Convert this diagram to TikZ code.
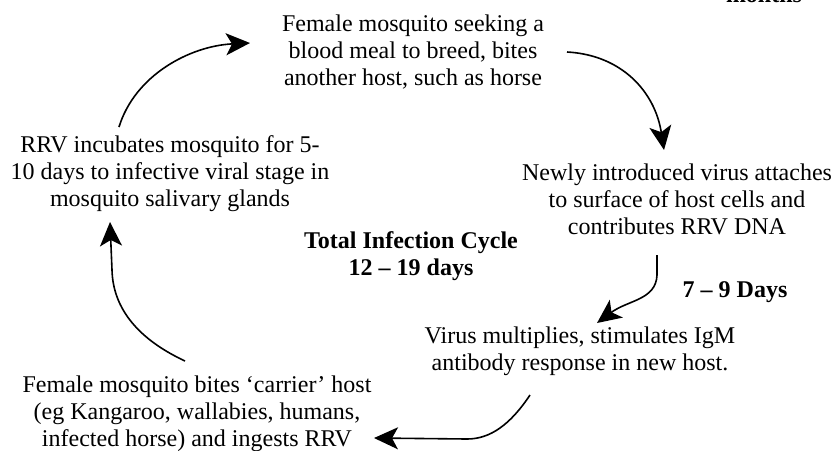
\documentclass[tikz,border=0pt]{standalone}
\usepackage{fontspec}
\setmainfont{Liberation Serif}
\usetikzlibrary{arrows.meta}
\begin{document}
\begin{tikzpicture}[x=0.5pt,y=-0.5pt,
  txt/.style={align=center,inner sep=0pt,font=\fontsize{12}{13.5}\selectfont},
  lbl/.style={align=center,inner sep=0pt,font=\fontsize{12}{13.5}\selectfont\bfseries},
  conn/.style={line width=0.8pt,-{Stealth[length=12pt,width=11pt,inset=3pt]}}]
\useasboundingbox (0,0) rectangle (833,450);
\node[txt] (top) at (413,52) {Female mosquito seeking a\\blood meal to breed, bites\\another host, such as horse};
\node[txt] (left) at (170,174) {RRV incubates mosquito for 5-\\10 days to infective viral stage in\\mosquito salivary glands};
\node[txt] (right) at (677,199) {Newly introduced virus attaches\\to surface of host cells and\\contributes RRV DNA};
\node[txt] (virus) at (580,351) {Virus multiplies, stimulates IgM\\antibody response in new host.};
\node[txt] (carrier) at (197,414) {Female mosquito bites `carrier' host\\(eg Kangaroo, wallabies, humans,\\infected horse) and ingests RRV};
\node[lbl] (total) at (411,256) {Total Infection Cycle\\12 -- 19 days};
\node[lbl] (days) at (735,292) {7 -- 9 Days};
\node[lbl,anchor=base] (months) at (764,2.5) {months};
% connector end points
\coordinate (a1s) at (119,127); \coordinate (a1e) at (250,43);
\coordinate (a2s) at (567,52);  \coordinate (a2e) at (664,150);
\coordinate (a3s) at (657,255); \coordinate (a3m) at (657,275); \coordinate (a3e) at (597,323);
\coordinate (a4s) at (530,395); \coordinate (a4m) at (467,439); \coordinate (a4e) at (374,438);
\coordinate (a5s) at (185,361); \coordinate (a5m) at (112,270); \coordinate (a5e) at (110,222);
\draw[conn] (a1s) .. controls (135,75) and (190,46) .. (a1e);
\draw[conn] (a2s) .. controls (622,55) and (655,92) .. (a2e);
\draw[conn] (a3s) -- (a3m) .. controls (656,300) and (628,300) .. (a3e);
\draw[conn] (a4s) .. controls (510,425) and (490,439) .. (a4m) -- (a4e);
\draw[conn] (a5s) .. controls (140,340) and (113,310) .. (a5m) -- (a5e);
\end{tikzpicture}
\end{document}
